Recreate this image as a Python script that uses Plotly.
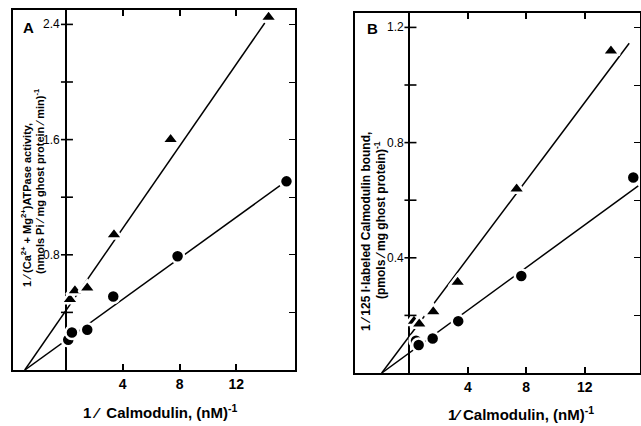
import plotly.graph_objects as go

# ---- Data ----
# Panel A: 1/ATPase activity vs 1/Calmodulin
a_tri_x = [0.28, 0.63, 1.5, 3.38, 7.37, 14.27]
a_tri_y = [0.49, 0.55, 0.57, 0.94, 1.60, 2.45]
a_cir_x = [0.16, 0.42, 1.5, 3.33, 7.86, 15.53]
a_cir_y = [0.21, 0.26, 0.28, 0.51, 0.79, 1.31]
a_tri_fit_x = [-2.9, 14.0]
a_tri_fit_y = [0.0, 2.41]
a_cir_fit_x = [-2.9, 15.07]
a_cir_fit_y = [0.0, 1.28]

# Panel B: 1/125I-labeled calmodulin bound vs 1/Calmodulin
b_tri_x = [0.31, 0.67, 1.63, 3.3, 7.34, 13.8]
b_tri_y = [0.18, 0.17, 0.213, 0.315, 0.639, 1.118]
b_cir_x = [0.45, 0.63, 1.59, 3.34, 7.66, 15.33]
b_cir_y = [0.112, 0.097, 0.12, 0.18, 0.337, 0.679]
b_tri_fit_x = [-1.9, 15.05]
b_tri_fit_y = [0.0, 1.145]
b_cir_fit_x = [-1.9, 15.67]
b_cir_fit_y = [0.0, 0.65]

x_ticks = [4, 8, 12]
a_y_ticks = [0.4, 0.8, 1.2, 1.6, 2.0, 2.4]
a_y_text = ["", "0.8", "", "1.6", "", "2.4"]
b_y_ticks = [0.2, 0.4, 0.6, 0.8, 1.0, 1.2]
b_y_text = ["", "0.4", "", "0.8", "", "1.2"]

FONT = "Liberation Sans, Arial, Helvetica, sans-serif"
W, H = 641, 426

fig = go.Figure()

def add_panel(xa, ya, yticks, ytext, fx1, fy1, fx2, fy2, tx, ty, cx, cy):
    for fx, fy in ((fx1, fy1), (fx2, fy2)):
        fig.add_trace(go.Scatter(x=fx, y=fy, mode="lines", xaxis=xa, yaxis=ya,
                                 line=dict(color="black", width=1.5),
                                 showlegend=False, hoverinfo="skip"))
    fig.add_trace(go.Scatter(x=tx, y=ty, mode="markers", xaxis=xa, yaxis=ya,
                             cliponaxis=False,
                             marker=dict(symbol="triangle-up", size=15, color="black",
                                         line=dict(color="white", width=2.5)),
                             showlegend=False))
    fig.add_trace(go.Scatter(x=cx, y=cy, mode="markers", xaxis=xa, yaxis=ya,
                             cliponaxis=False,
                             marker=dict(symbol="circle", size=13, color="black",
                                         line=dict(color="white", width=2.5)),
                             showlegend=False))
    # ticks of the vertical axis at x = 0 (pixel-sized, crossing the axis)
    for v, t in zip(yticks, ytext):
        fig.add_shape(type="line", xref=xa, yref=ya, xsizemode="pixel", xanchor=0,
                      x0=-5, x1=7, y0=v, y1=v,
                      line=dict(color="black", width=1.6), layer="above")
        if t:
            # centred labels shifted left of the axis line
            fig.add_annotation(text=t, xref=xa, yref=ya, x=0, y=v, xanchor="center",
                               yanchor="middle", xshift=-14, showarrow=False,
                               font=dict(family=FONT, size=12, color="black"))

add_panel("x", "y", a_y_ticks, a_y_text, a_tri_fit_x, a_tri_fit_y, a_cir_fit_x,
          a_cir_fit_y, a_tri_x, a_tri_y, a_cir_x, a_cir_y)
add_panel("x2", "y2", b_y_ticks, b_y_text, b_tri_fit_x, b_tri_fit_y, b_cir_fit_x,
          b_cir_fit_y, b_tri_x, b_tri_y, b_cir_x, b_cir_y)

def px_x(p):
    return p / W

def px_y(p):
    return 1 - p / H

# panel pixel frames
A_L, A_R, A_T, A_B = 13, 295, 10, 370
B_L, B_R, B_T, B_B = 355, 640, 13, 373
A_XR = [-3.73, 16.13]
B_XR = [-3.73, 15.79]
A_YR = [0, 2.5]
B_YR = [0, 1.25]

common_x = dict(showgrid=False, zeroline=True, zerolinecolor="black",
                zerolinewidth=1.5, showline=True, linecolor="black",
                linewidth=1.5, ticks="inside", ticklen=6, tickwidth=1.5,
                tickcolor="black", mirror="allticks", tickvals=x_ticks,
                tickfont=dict(family=FONT, size=14, color="black", weight="bold"))
common_y = dict(showgrid=False, zeroline=False, showline=True, linecolor="black",
                linewidth=1.5, tickwidth=1.4, tickcolor="black", side="right",
                showticklabels=False, mirror=True, ticks="inside", ticklen=6)

fig.update_layout(
    width=W, height=H, margin=dict(l=0, r=0, t=0, b=0),
    paper_bgcolor="white", plot_bgcolor="white", showlegend=False,
    xaxis=dict(domain=[px_x(A_L), px_x(A_R)], range=A_XR, anchor="y", **common_x),
    yaxis=dict(domain=[px_y(A_B), px_y(A_T)], range=A_YR, anchor="x",
               tickvals=a_y_ticks, **common_y),
    xaxis2=dict(domain=[px_x(B_L), px_x(B_R)], range=B_XR, anchor="y2", **common_x),
    yaxis2=dict(domain=[px_y(B_B), px_y(B_T)], range=B_YR, anchor="x2",
                tickvals=b_y_ticks, **common_y),
)

def ann(text, x, y, size, angle=0, bold=False):
    t = f"<b>{text}</b>" if bold else text
    fig.add_annotation(text=t, x=px_x(x), y=px_y(y), xref="paper", yref="paper",
                       showarrow=False, textangle=angle,
                       font=dict(family=FONT, size=size, color="black"),
                       xanchor="center", yanchor="middle")

# panel letters
ann("A", 28, 27, 15, bold=True)
ann("B", 372, 29, 15, bold=True)

# x titles
ann("1 ⁄  Calmodulin, (nM)<sup>-1</sup>", 160, 411, 15, bold=True)
ann("1⁄ Calmodulin, (nM)<sup>-1</sup>", 521, 413, 15, bold=True)

# y titles panel A
ann("1 ⁄ (Ca<sup>2+</sup> + Mg<sup>2+</sup>)ATPase activity,", 26, 205, 11, angle=-90, bold=True)
ann("(nmols Pi ⁄ mg ghost protein ⁄ min)<sup>-1</sup>", 39, 181, 11, angle=-90, bold=True)

# y titles panel B
ann("1 ⁄ 125 I·labeled Calmodulin bound,", 366, 232, 12, angle=-90, bold=True)
ann("(pmols ⁄ mg ghost protein)<sup>-1</sup>", 380, 220, 12, angle=-90, bold=True)

fig.write_html("out.html")
